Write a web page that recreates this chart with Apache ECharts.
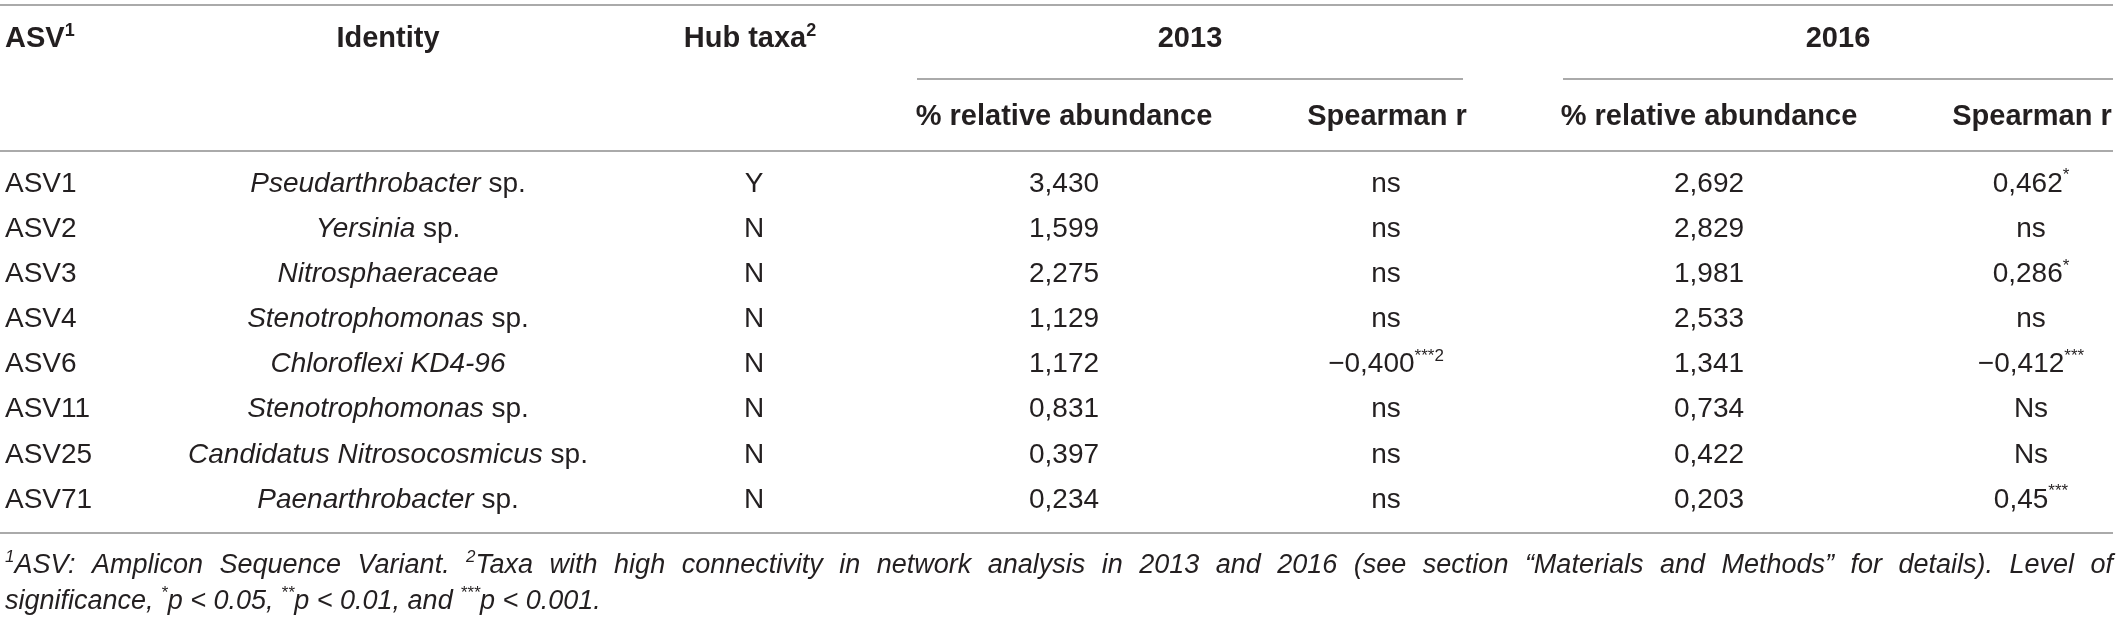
<!DOCTYPE html>
<html><head><meta charset="utf-8">
<script src="https://cdn.jsdelivr.net/npm/echarts@6/dist/echarts.min.js"></script>
<style>html,body{margin:0;padding:0;background:#fff}#c{width:2121px;height:623px}</style>
</head><body><div id="c"></div>
<script>
// ---- data ----
const asv = ['ASV1','ASV2','ASV3','ASV4','ASV6','ASV11','ASV25','ASV71'];
const identityItalic = ['Pseudarthrobacter','Yersinia','Nitrosphaeraceae','Stenotrophomonas','Chloroflexi KD4-96','Stenotrophomonas','Candidatus Nitrosocosmicus','Paenarthrobacter'];
const identitySuffix = [' sp.',' sp.','',' sp.','',' sp.',' sp.',' sp.'];
const hubTaxa = ['Y','N','N','N','N','N','N','N'];
const abundance2013 = [3.430,1.599,2.275,1.129,1.172,0.831,0.397,0.234];
const spearman2013 = ['ns','ns','ns','ns','\u22120,400','ns','ns','ns'];
const spearman2013Sig = ['','','','','***2','','',''];
const abundance2016 = [2.692,2.829,1.981,2.533,1.341,0.734,0.422,0.203];
const spearman2016 = ['0,462','ns','0,286','ns','\u22120,412','Ns','Ns','0,45'];
const spearman2016Sig = ['*','','*','','***','','','***'];
const headerTop = ['ASV','Identity','Hub taxa','2013','2016'];
const headerTopSup = ['1','','2','',''];
const headerSub = ['% relative abundance','Spearman r','% relative abundance','Spearman r'];
const footnote1 = [['sup','1'],['it','ASV: Amplicon Sequence Variant. '],['sup','2'],['it','Taxa with high connectivity in network analysis in 2013 and 2016 (see section \u201cMaterials and Methods\u201d for details). Level of']];
const footnote2 = [['it','significance, '],['sup','*'],['it','p < 0.05, '],['sup','**'],['it','p < 0.01, and '],['sup','***'],['it','p < 0.001.']];

// ---- layout & style ----
const FONT = "'Liberation Sans', Arial, Helvetica, sans-serif";
const INK = '#231f20';
const RULE = '#8e8e8e';
const BODY = 28, HEAD = 29, FOOT = 27;
const colX = {asv:5, identity:388, hub:754, a13:1064, r13:1386, a16:1709, r16:2031};
const richBody = {
  n:{fontFamily:FONT,fontSize:BODY,fill:INK,color:INK,lineHeight:34,verticalAlign:'middle'},
  i:{fontFamily:FONT,fontSize:BODY,fontStyle:'italic',fill:INK,color:INK,lineHeight:34,verticalAlign:'middle'},
  sup:{fontFamily:FONT,fontSize:17,fill:INK,color:INK,lineHeight:14,verticalAlign:'top'}
};
const richHead = {
  b:{fontFamily:FONT,fontSize:HEAD,fontWeight:'bold',fill:INK,color:INK,lineHeight:34,verticalAlign:'middle'},
  sup:{fontFamily:FONT,fontSize:18,fontWeight:'bold',fill:INK,color:INK,lineHeight:15,verticalAlign:'top'}
};
const fmt = v => v.toFixed(3).replace('.', ',');
const sup = s => s ? '{sup|' + s + '}' : '';

function cellSeries(name, x, align, textFn) {
  return {
    type:'custom', name, coordinateSystem:'cartesian2d', silent:true, clip:false,
    data: asv.map((a, i) => [x, i]),
    renderItem: (params, api) => {
      const p = api.coord([api.value(0), api.value(1)]);
      return {type:'text', x:p[0], y:p[1], style:{
        text: textFn(params.dataIndex), rich: richBody, align, verticalAlign:'middle',
        fontFamily:FONT, fontSize:BODY, fill:INK }};
    }
  };
}

const series = [
  cellSeries('ASV', colX.asv, 'left', i => '{n|' + asv[i] + '}'),
  cellSeries('Identity', colX.identity, 'center', i => '{i|' + identityItalic[i] + '}' + (identitySuffix[i] ? '{n|' + identitySuffix[i] + '}' : '')),
  cellSeries('Hub taxa', colX.hub, 'center', i => '{n|' + hubTaxa[i] + '}'),
  cellSeries('abund2013', colX.a13, 'center', i => '{n|' + fmt(abundance2013[i]) + '}'),
  cellSeries('r2013', colX.r13, 'center', i => '{n|' + spearman2013[i] + '}' + sup(spearman2013Sig[i])),
  cellSeries('abund2016', colX.a16, 'center', i => '{n|' + fmt(abundance2016[i]) + '}'),
  cellSeries('r2016', colX.r16, 'center', i => '{n|' + spearman2016[i] + '}' + sup(spearman2016Sig[i]))
];

// ---- footnotes (first line justified) ----
const footStyle = {
  it:{fontFamily:FONT,fontSize:FOOT,fontStyle:'italic',fill:INK,color:INK,lineHeight:32,verticalAlign:'middle'},
  sup:{fontFamily:FONT,fontSize:17,fontStyle:'italic',fill:INK,color:INK,lineHeight:14,verticalAlign:'top'}
};
const measureCtx = document.createElement('canvas').getContext('2d');
function measure(style, text) {
  const s = footStyle[style];
  measureCtx.font = 'italic normal ' + s.fontSize + 'px ' + FONT;
  return measureCtx.measureText(text).width;
}
function justified(parts, targetWidth) {
  const toks = [];
  parts.forEach(([st, txt]) => {
    if (st === 'sup') { toks.push([st, txt]); return; }
    txt.split(' ').forEach((w, j) => { if (j > 0) toks.push(['gap']); if (w) toks.push([st, w]); });
  });
  let sum = 0, gaps = 0;
  toks.forEach(t => { if (t[0] === 'gap') gaps++; else sum += measure(t[0], t[1]); });
  const gap = (targetWidth - sum) / gaps;
  const rich = Object.assign({}, footStyle, {gap:{fontFamily:FONT,fontSize:FOOT,width:gap,lineHeight:32,verticalAlign:'middle'}});
  const text = toks.map(t => t[0] === 'gap' ? '{gap| }' : '{' + t[0] + '|' + t[1] + '}').join('');
  return {text, rich};
}
const footText = parts => parts.map(p => '{' + p[0] + '|' + p[1] + '}').join('');

const headTopX = [colX.asv, colX.identity, 750, 1190, 1838];
const headTopAlign = ['left','center','center','center','center'];
const headSubX = [colX.a13, 1387, colX.a16, 2032];
const graphic = [];
const rule = (x1, x2, y) => graphic.push({type:'line', silent:true, shape:{x1, y1:y, x2, y2:y}, style:{stroke:RULE, lineWidth:1.6}});
rule(0, 2113, 5);
rule(917, 1463, 79);
rule(1563, 2113, 79);
rule(0, 2113, 151);
rule(0, 2113, 533);
headerTop.forEach((h, k) => graphic.push({type:'text', silent:true, x:headTopX[k], y:39, style:{
  text:'{b|' + h + '}' + sup(headerTopSup[k]), rich:richHead, align:headTopAlign[k], verticalAlign:'middle'}}));
headerSub.forEach((h, k) => graphic.push({type:'text', silent:true, x:headSubX[k], y:117, style:{
  text:'{b|' + h + '}', rich:richHead, align:'center', verticalAlign:'middle'}}));
const f1 = justified(footnote1, 2113 - 5);
graphic.push({type:'text', silent:true, x:5, y:565, style:{text:f1.text, rich:f1.rich, align:'left', verticalAlign:'middle'}});
graphic.push({type:'text', silent:true, x:5, y:601, style:{text:footText(footnote2), rich:footStyle, align:'left', verticalAlign:'middle'}});

const chart = echarts.init(document.getElementById('c'), null, {renderer:'canvas'});
chart.setOption({
  backgroundColor:'#ffffff',
  animation:false,
  grid:{left:0, right:0, top:161.5, bottom:100.5, containLabel:false},
  xAxis:{type:'value', min:0, max:2121, show:false},
  yAxis:{type:'category', data:asv, inverse:true, show:false},
  series,
  graphic
});
</script></body></html>
